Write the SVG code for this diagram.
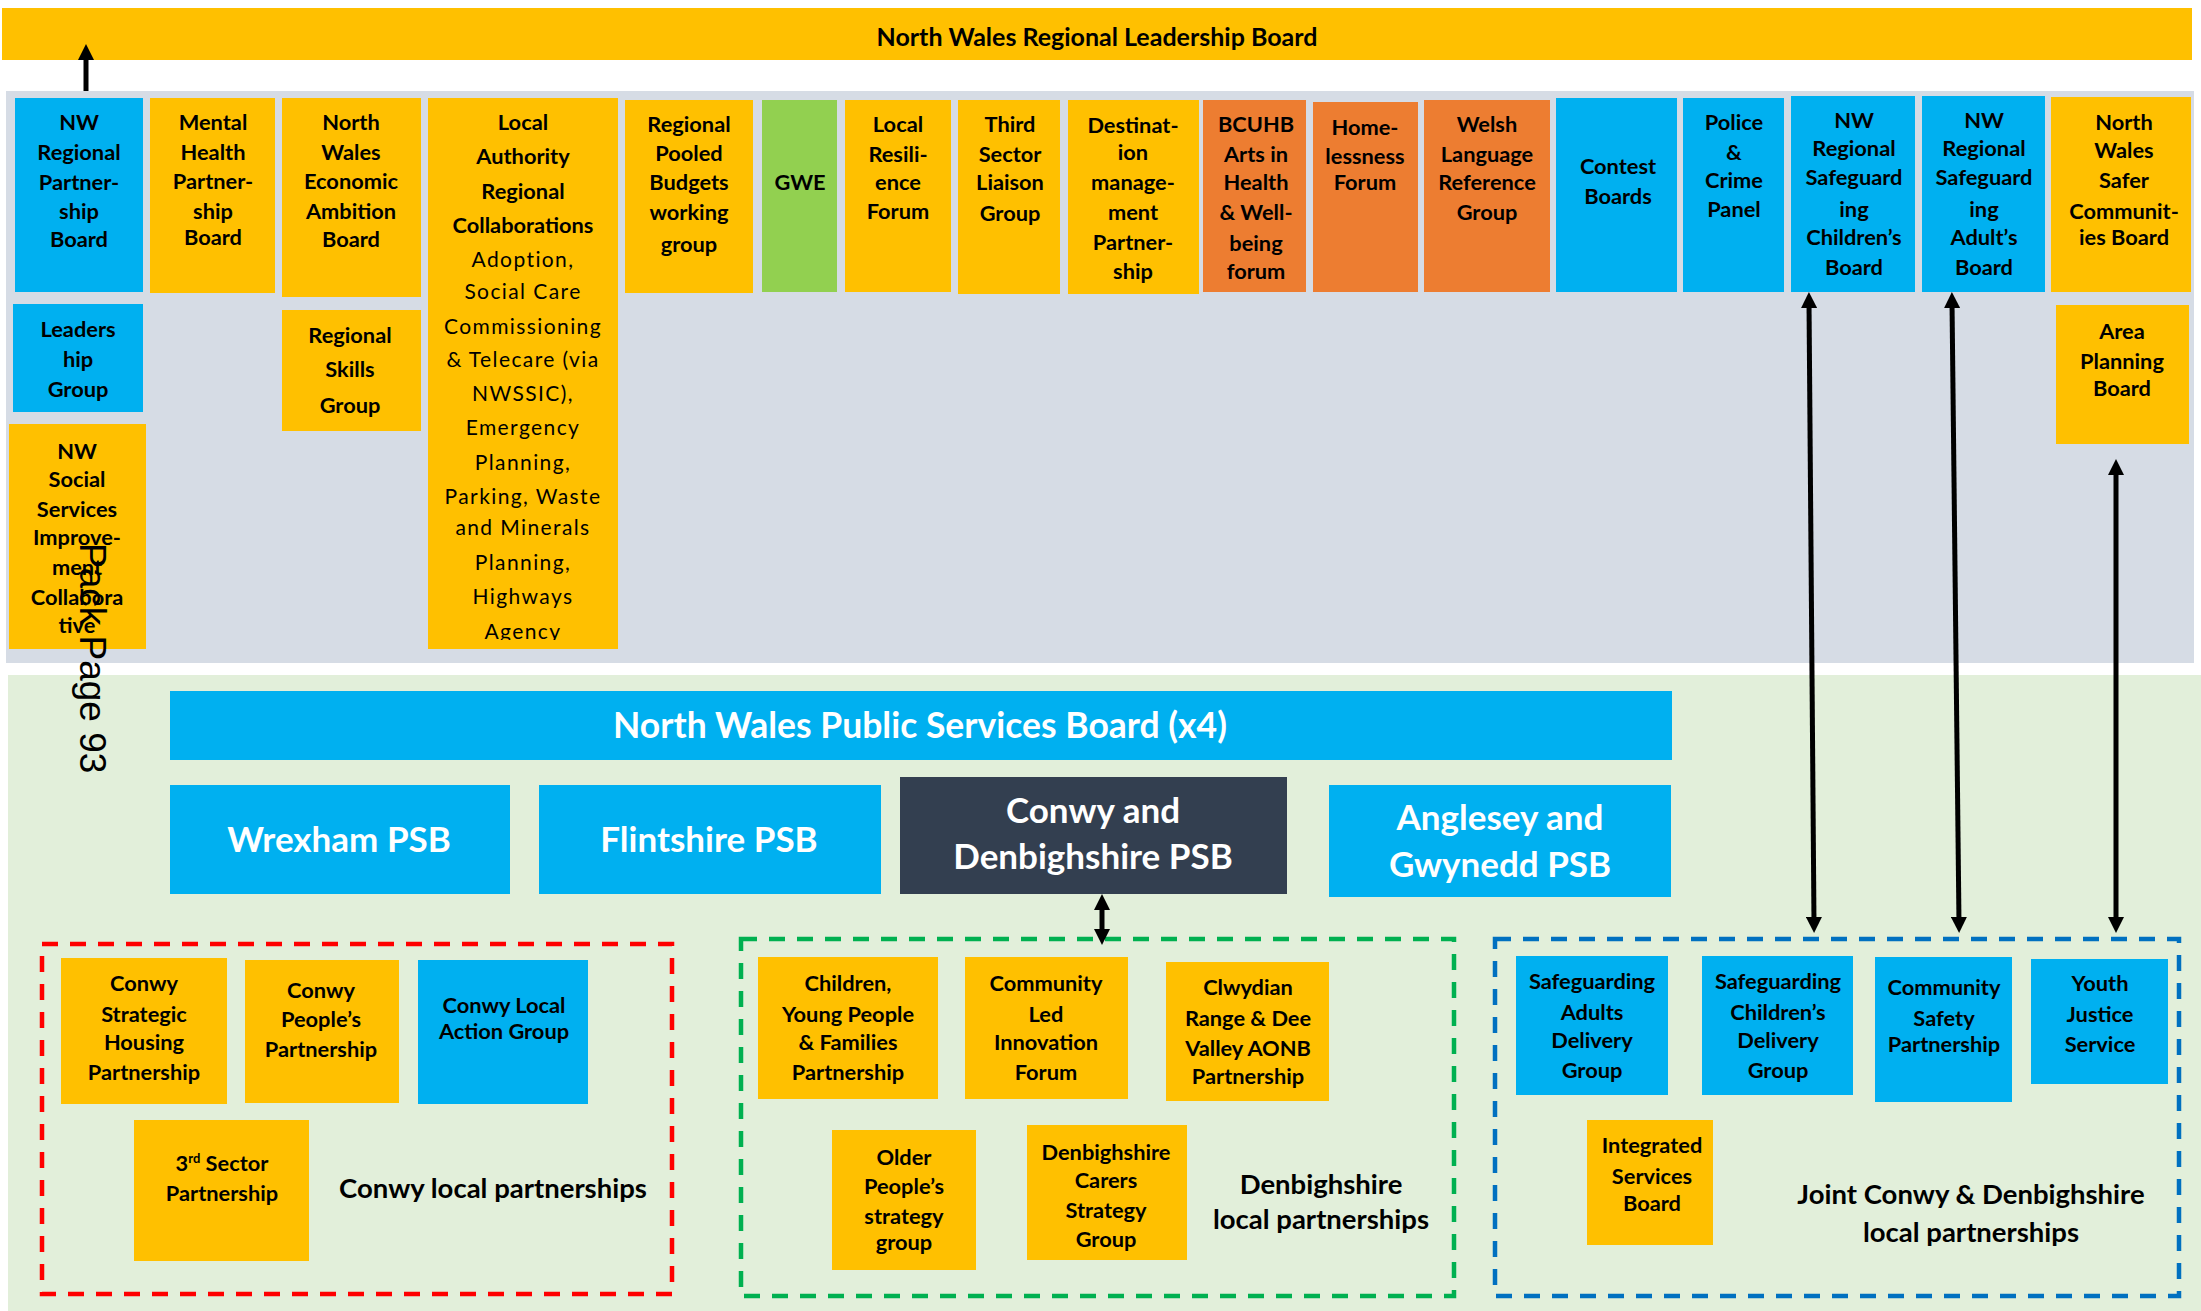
<svg xmlns="http://www.w3.org/2000/svg" width="2201" height="1311" viewBox="0 0 2201 1311">
  <style>
    text { font-family: Lato, "Liberation Sans", sans-serif; }
    .n { font-size: 21.8px; font-weight: bold; text-anchor: middle; fill: #000; }
    .r { font-size: 21px; font-weight: normal; letter-spacing: 1.4px; }
    .psb { font-size: 35px; font-weight: bold; text-anchor: middle; fill: #fff; }
    .lbl { font-size: 27.5px; font-weight: bold; text-anchor: middle; fill: #000; }
    .gold { fill: #FFC000; }
    .blue { fill: #00B0F0; }
    .orange { fill: #ED7D31; }
    .green { fill: #92D050; }
    .dark { fill: #333F50; }
    .conn { stroke: #000; stroke-width: 5; fill: none; }
    .dash { fill: none; stroke-width: 4.5; stroke-dasharray: 16 12; }
  </style>
  <defs>
    <marker id="head" markerUnits="userSpaceOnUse" markerWidth="16" markerHeight="16" refX="6" refY="8" orient="auto-start-reverse">
      <path d="M0,0 L16,8 L0,16 z" fill="#000"/>
    </marker>
    <clipPath id="laClip"><rect x="428" y="98" width="190" height="542"/></clipPath>
  </defs>

  <!-- background panels -->
  <rect x="0" y="0" width="2201" height="1311" fill="#fff"/>
  <rect x="6" y="91" width="2188" height="572" fill="#D6DCE5"/>
  <rect x="8" y="675" width="2193" height="636" fill="#E2EFDA"/>

  <!-- regional leadership board -->
  <g id="nwrlb">
    <rect class="gold" x="2" y="8" width="2190" height="52"/>
    <text class="n" x="1097" y="46" style="font-size:25px">North Wales Regional  Leadership Board</text>
  </g>

  <!-- regional partnerships row -->
  <g id="nw-rpb">
    <rect class="blue" x="15" y="98" width="128" height="194"/>
    <text class="n"><tspan x="79" y="130">NW</tspan><tspan x="79" y="160">Regional</tspan><tspan x="79" y="190">Partner-</tspan><tspan x="79" y="219">ship</tspan><tspan x="79" y="247">Board</tspan></text>
  </g>
  <g id="mhpb">
    <rect class="gold" x="150" y="98" width="125" height="195"/>
    <text class="n"><tspan x="213" y="130">Mental</tspan><tspan x="213" y="160">Health</tspan><tspan x="213" y="189">Partner-</tspan><tspan x="213" y="219">ship</tspan><tspan x="213" y="245">Board</tspan></text>
  </g>
  <g id="nweab">
    <rect class="gold" x="282" y="98" width="139" height="199"/>
    <text class="n"><tspan x="351" y="130">North</tspan><tspan x="351" y="160">Wales</tspan><tspan x="351" y="189">Economic</tspan><tspan x="351" y="219">Ambition</tspan><tspan x="351" y="247">Board</tspan></text>
  </g>
  <g id="la-collab">
    <rect class="gold" x="428" y="98" width="190" height="551"/>
    <text class="n" clip-path="url(#laClip)"><tspan x="523" y="130">Local</tspan><tspan x="523" y="164">Authority</tspan><tspan x="523" y="199">Regional</tspan><tspan x="523" y="233">Collaborations</tspan><tspan class="r" x="523" y="267">Adoption,</tspan><tspan class="r" x="523" y="299">Social Care</tspan><tspan class="r" x="523" y="334">Commissioning</tspan><tspan class="r" x="523" y="367">&amp; Telecare (via</tspan><tspan class="r" x="523" y="401">NWSSIC),</tspan><tspan class="r" x="523" y="435">Emergency</tspan><tspan class="r" x="523" y="470">Planning,</tspan><tspan class="r" x="523" y="504">Parking, Waste</tspan><tspan class="r" x="523" y="535">and Minerals</tspan><tspan class="r" x="523" y="570">Planning,</tspan><tspan class="r" x="523" y="604">Highways</tspan><tspan class="r" x="523" y="639">Agency</tspan></text>
  </g>
  <g id="rpbwg">
    <rect class="gold" x="625" y="100" width="128" height="193"/>
    <text class="n"><tspan x="689" y="132">Regional</tspan><tspan x="689" y="161">Pooled</tspan><tspan x="689" y="190">Budgets</tspan><tspan x="689" y="220">working</tspan><tspan x="689" y="252">group</tspan></text>
  </g>
  <g id="gwe">
    <rect class="green" x="762" y="100" width="75" height="192"/>
    <text class="n" x="800" y="190">GWE</text>
  </g>
  <g id="lrf">
    <rect class="gold" x="845" y="100" width="106" height="192"/>
    <text class="n"><tspan x="898" y="132">Local</tspan><tspan x="898" y="162">Resili-</tspan><tspan x="898" y="190">ence</tspan><tspan x="898" y="219">Forum</tspan></text>
  </g>
  <g id="tslg">
    <rect class="gold" x="958" y="100" width="102" height="194"/>
    <text class="n"><tspan x="1010" y="132">Third</tspan><tspan x="1010" y="162">Sector</tspan><tspan x="1010" y="190">Liaison</tspan><tspan x="1010" y="221">Group</tspan></text>
  </g>
  <g id="dmp">
    <rect class="gold" x="1068" y="100" width="131" height="194"/>
    <text class="n"><tspan x="1133" y="133">Destinat-</tspan><tspan x="1133" y="160">ion</tspan><tspan x="1133" y="190">manage-</tspan><tspan x="1133" y="220">ment</tspan><tspan x="1133" y="250">Partner-</tspan><tspan x="1133" y="279">ship</tspan></text>
  </g>
  <g id="bcuhb">
    <rect class="orange" x="1203" y="100" width="103" height="192"/>
    <text class="n"><tspan x="1256" y="132">BCUHB</tspan><tspan x="1256" y="162">Arts in</tspan><tspan x="1256" y="190">Health</tspan><tspan x="1256" y="220">&amp; Well-</tspan><tspan x="1256" y="251">being</tspan><tspan x="1256" y="279">forum</tspan></text>
  </g>
  <g id="homeless">
    <rect class="orange" x="1313" y="102" width="105" height="190"/>
    <text class="n"><tspan x="1365" y="135">Home-</tspan><tspan x="1365" y="164">lessness</tspan><tspan x="1365" y="190">Forum</tspan></text>
  </g>
  <g id="welsh">
    <rect class="orange" x="1424" y="100" width="126" height="192"/>
    <text class="n"><tspan x="1487" y="132">Welsh</tspan><tspan x="1487" y="162">Language</tspan><tspan x="1487" y="190">Reference</tspan><tspan x="1487" y="220">Group</tspan></text>
  </g>
  <g id="contest">
    <rect class="blue" x="1556" y="98" width="121" height="194"/>
    <text class="n"><tspan x="1618" y="174">Contest</tspan><tspan x="1618" y="204">Boards</tspan></text>
  </g>
  <g id="police">
    <rect class="blue" x="1683" y="98" width="101" height="194"/>
    <text class="n"><tspan x="1734" y="130">Police</tspan><tspan x="1734" y="160">&amp;</tspan><tspan x="1734" y="188">Crime</tspan><tspan x="1734" y="217">Panel</tspan></text>
  </g>
  <g id="nwrscb">
    <rect class="blue" x="1791" y="96" width="124" height="196"/>
    <text class="n"><tspan x="1854" y="128">NW</tspan><tspan x="1854" y="156">Regional</tspan><tspan x="1854" y="185">Safeguard</tspan><tspan x="1854" y="217">ing</tspan><tspan x="1854" y="245">Children’s</tspan><tspan x="1854" y="275">Board</tspan></text>
  </g>
  <g id="nwrsab">
    <rect class="blue" x="1922" y="96" width="123" height="196"/>
    <text class="n"><tspan x="1984" y="128">NW</tspan><tspan x="1984" y="156">Regional</tspan><tspan x="1984" y="185">Safeguard</tspan><tspan x="1984" y="217">ing</tspan><tspan x="1984" y="245">Adult’s</tspan><tspan x="1984" y="275">Board</tspan></text>
  </g>
  <g id="nwscb">
    <rect class="gold" x="2051" y="97" width="140" height="195"/>
    <text class="n"><tspan x="2124" y="130">North</tspan><tspan x="2124" y="158">Wales</tspan><tspan x="2124" y="188">Safer</tspan><tspan x="2124" y="219">Communit-</tspan><tspan x="2124" y="245">ies Board</tspan></text>
  </g>
  <g id="apb">
    <rect class="gold" x="2056" y="305" width="133" height="139"/>
    <text class="n"><tspan x="2122" y="339">Area</tspan><tspan x="2122" y="369">Planning</tspan><tspan x="2122" y="396">Board</tspan></text>
  </g>
  <g id="leadership">
    <rect class="blue" x="13" y="304" width="130" height="108"/>
    <text class="n"><tspan x="78" y="337">Leaders</tspan><tspan x="78" y="367">hip</tspan><tspan x="78" y="397">Group</tspan></text>
  </g>
  <g id="skills">
    <rect class="gold" x="282" y="310" width="139" height="121"/>
    <text class="n"><tspan x="350" y="343">Regional</tspan><tspan x="350" y="377">Skills</tspan><tspan x="350" y="413">Group</tspan></text>
  </g>
  <g id="nwssic">
    <rect class="gold" x="9" y="424" width="137" height="225"/>
    <text class="n"><tspan x="77" y="459">NW</tspan><tspan x="77" y="487">Social</tspan><tspan x="77" y="517">Services</tspan><tspan x="77" y="545">Improve-</tspan><tspan x="77" y="575">ment</tspan><tspan x="77" y="605">Collabora</tspan><tspan x="77" y="633">tive</tspan></text>
  </g>

  <!-- public services boards -->
  <g id="nwpsb">
    <rect class="blue" x="170" y="691" width="1502" height="69"/>
    <text class="psb" x="920" y="738" style="font-size:35.5px">North Wales Public Services Board (x4)</text>
  </g>
  <g id="wrexham">
    <rect class="blue" x="170" y="785" width="340" height="109"/>
    <text class="psb" x="339" y="852">Wrexham PSB</text>
  </g>
  <g id="flintshire">
    <rect class="blue" x="539" y="785" width="342" height="109"/>
    <text class="psb" x="709" y="852">Flintshire PSB</text>
  </g>
  <g id="conwy-denb">
    <rect class="dark" x="900" y="777" width="387" height="117"/>
    <text class="psb"><tspan x="1093" y="823">Conwy and</tspan><tspan x="1093" y="869">Denbighshire PSB</tspan></text>
  </g>
  <g id="anglesey">
    <rect class="blue" x="1329" y="785" width="342" height="112"/>
    <text class="psb"><tspan x="1500" y="830">Anglesey and</tspan><tspan x="1500" y="877">Gwynedd PSB</tspan></text>
  </g>

  <!-- Conwy local partnerships -->
  <g id="conwy-local">
    <rect class="dash" x="42" y="944" width="630" height="350" stroke="#FF0000"/>
    <text class="lbl" x="493" y="1198">Conwy local partnerships</text>
  </g>
  <g id="cshp">
    <rect class="gold" x="61" y="958" width="166" height="146"/>
    <text class="n"><tspan x="144" y="991">Conwy</tspan><tspan x="144" y="1022">Strategic</tspan><tspan x="144" y="1050">Housing</tspan><tspan x="144" y="1080">Partnership</tspan></text>
  </g>
  <g id="cpp">
    <rect class="gold" x="245" y="960" width="154" height="143"/>
    <text class="n"><tspan x="321" y="998">Conwy</tspan><tspan x="321" y="1027">People’s</tspan><tspan x="321" y="1057">Partnership</tspan></text>
  </g>
  <g id="clag">
    <rect class="blue" x="418" y="960" width="170" height="144"/>
    <text class="n"><tspan x="504" y="1013">Conwy  Local</tspan><tspan x="504" y="1039">Action Group</tspan></text>
  </g>
  <g id="tsp">
    <rect class="gold" x="134" y="1120" width="175" height="141"/>
    <text class="n"><tspan x="222" y="1171">3<tspan baseline-shift="super" style="font-size:13px">rd</tspan> Sector</tspan><tspan x="222" y="1201">Partnership</tspan></text>
  </g>

  <!-- Denbighshire local partnerships -->
  <g id="denb-local">
    <rect class="dash" x="741" y="939" width="713" height="357" stroke="#00B050"/>
    <text class="lbl"><tspan x="1321" y="1194">Denbighshire</tspan><tspan x="1321" y="1229">local partnerships</tspan></text>
  </g>
  <g id="cypfp">
    <rect class="gold" x="758" y="957" width="180" height="142"/>
    <text class="n"><tspan x="848" y="991">Children,</tspan><tspan x="848" y="1022">Young People</tspan><tspan x="848" y="1050">&amp; Families</tspan><tspan x="848" y="1080">Partnership</tspan></text>
  </g>
  <g id="clif">
    <rect class="gold" x="965" y="957" width="163" height="142"/>
    <text class="n"><tspan x="1046" y="991">Community</tspan><tspan x="1046" y="1022">Led</tspan><tspan x="1046" y="1050">Innovation</tspan><tspan x="1046" y="1080">Forum</tspan></text>
  </g>
  <g id="crdv">
    <rect class="gold" x="1166" y="962" width="163" height="139"/>
    <text class="n"><tspan x="1248" y="995">Clwydian</tspan><tspan x="1248" y="1026">Range &amp; Dee</tspan><tspan x="1248" y="1056">Valley AONB</tspan><tspan x="1248" y="1084">Partnership</tspan></text>
  </g>
  <g id="opsg">
    <rect class="gold" x="832" y="1130" width="144" height="140"/>
    <text class="n"><tspan x="904" y="1165">Older</tspan><tspan x="904" y="1194">People’s</tspan><tspan x="904" y="1224">strategy</tspan><tspan x="904" y="1250">group</tspan></text>
  </g>
  <g id="dcsg">
    <rect class="gold" x="1027" y="1125" width="160" height="135"/>
    <text class="n"><tspan x="1106" y="1160">Denbighshire</tspan><tspan x="1106" y="1188">Carers</tspan><tspan x="1106" y="1218">Strategy</tspan><tspan x="1106" y="1247">Group</tspan></text>
  </g>

  <!-- Joint Conwy & Denbighshire local partnerships -->
  <g id="joint-local">
    <rect class="dash" x="1495" y="939" width="684" height="357" stroke="#0070C0"/>
    <text class="lbl"><tspan x="1971" y="1204">Joint Conwy &amp; Denbighshire</tspan><tspan x="1971" y="1242">local partnerships</tspan></text>
  </g>
  <g id="sadg">
    <rect class="blue" x="1516" y="956" width="152" height="139"/>
    <text class="n"><tspan x="1592" y="989">Safeguarding</tspan><tspan x="1592" y="1020">Adults</tspan><tspan x="1592" y="1048">Delivery</tspan><tspan x="1592" y="1078">Group</tspan></text>
  </g>
  <g id="scdg">
    <rect class="blue" x="1702" y="956" width="151" height="139"/>
    <text class="n"><tspan x="1778" y="989">Safeguarding</tspan><tspan x="1778" y="1020">Children’s</tspan><tspan x="1778" y="1048">Delivery</tspan><tspan x="1778" y="1078">Group</tspan></text>
  </g>
  <g id="csp">
    <rect class="blue" x="1875" y="957" width="137" height="145"/>
    <text class="n"><tspan x="1944" y="995">Community</tspan><tspan x="1944" y="1026">Safety</tspan><tspan x="1944" y="1052">Partnership</tspan></text>
  </g>
  <g id="yjs">
    <rect class="blue" x="2031" y="959" width="137" height="125"/>
    <text class="n"><tspan x="2100" y="991">Youth</tspan><tspan x="2100" y="1022">Justice</tspan><tspan x="2100" y="1052">Service</tspan></text>
  </g>
  <g id="isb">
    <rect class="gold" x="1587" y="1120" width="126" height="125"/>
    <text class="n"><tspan x="1652" y="1153">Integrated</tspan><tspan x="1652" y="1184">Services</tspan><tspan x="1652" y="1211">Board</tspan></text>
  </g>

  <!-- connectors -->
  <g id="connectors">
    <line class="conn" x1="86" y1="91" x2="86" y2="54" marker-end="url(#head)"/>
    <line class="conn" x1="1809" y1="302" x2="1814" y2="923" marker-start="url(#head)" marker-end="url(#head)"/>
    <line class="conn" x1="1952" y1="302" x2="1959" y2="923" marker-start="url(#head)" marker-end="url(#head)"/>
    <line class="conn" x1="2116" y1="469" x2="2116" y2="923" marker-start="url(#head)" marker-end="url(#head)"/>
    <line class="conn" x1="1102" y1="904" x2="1102" y2="935" marker-start="url(#head)" marker-end="url(#head)"/>
  </g>

  <!-- page stamp -->
  <text x="0" y="0" transform="translate(80,543) rotate(90)" style="font-family:'Liberation Sans', Arial, sans-serif; font-size:37px; fill:#000">Pack Page 93</text>
</svg>
